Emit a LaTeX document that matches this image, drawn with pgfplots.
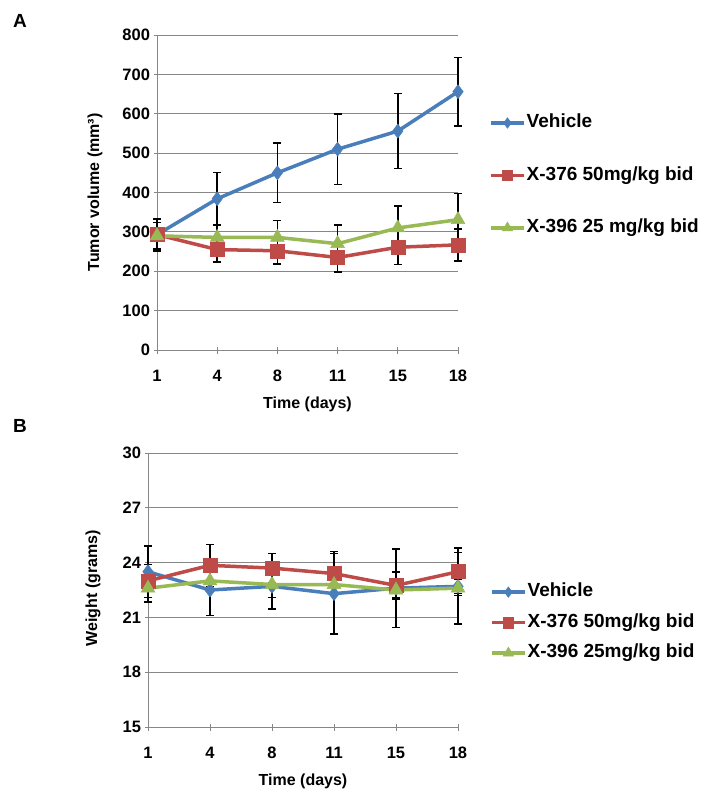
\documentclass[border=0pt]{standalone}
\usepackage{fontspec}
\setmainfont{Liberation Sans}
\usepackage{pgfplots}
\usepackage{pgfplotstable}
\pgfplotsset{compat=1.18}

\definecolor{vblue}{HTML}{4A7EBB}
\definecolor{vred}{HTML}{BE4B48}
\definecolor{vgreen}{HTML}{98B954}
\definecolor{gridgray}{HTML}{878787}

% panel A: tumor volume, x = category index (days 1,4,8,11,15,18)
\pgfplotstableread{
x y e
0 293 41
1 384 67
2 450 75
3 510 90
4 556 95
5 656 87
}\volveh
\pgfplotstableread{
x y e
0 293 38
1 255 32
2 252 34
3 235 37
4 261 44
5 267 41
}\volred
\pgfplotstableread{
x y e
0 290 34
1 286 31
2 286 43
3 270 48
4 310 55
5 331 66
}\volgreen

% panel B: body weight
\pgfplotstableread{
x y e
0 23.5 1.4
1 22.5 1.4
2 22.7 1.25
3 22.3 2.2
4 22.6 2.15
5 22.7 0.4
}\wveh
\pgfplotstableread{
x y e
0 23.0 0.9
1 23.85 1.15
2 23.7 0.8
3 23.4 1.2
4 22.75 0.75
5 23.5 1.3
}\wred
\pgfplotstableread{
x y e
0 22.6 0.75
1 23.0 0.5
2 22.8 0.7
3 22.8 0.5
4 22.5 0.4
5 22.6 1.95
}\wgreen

\pgfplotsset{
  excel/.style={
    scale only axis, clip=false,
    axis x line=bottom, axis y line=left,
    axis line style={draw=gridgray, line width=0.8pt, -},
    xmin=0, xmax=5, xtick={0,...,5}, xticklabels={1,4,8,11,15,18},
    ymajorgrids, grid style={gridgray, line width=0.8pt},
    tick style={gridgray, line width=0.8pt}, tick align=center, major tick length=7pt,
    ticklabel style={font=\fontsize{16.5}{19}\selectfont\bfseries},
    xticklabel style={yshift=-13pt},
    /pgf/number format/assume math mode=true,
    label style={font=\fontsize{16}{19}\selectfont\bfseries},
    legend cell align=left,
    legend image code/.code={
      \draw[mark repeat=2, mark phase=2, #1, every mark/.append style={scale=0.75}]
        plot coordinates {(0pt,0pt) (16.5pt,0pt) (33pt,0pt)};
    },
  },
  sblue/.style={vblue, line width=3.5pt, mark=diamond*, mark size=7pt, mark options={fill=vblue, draw=vblue, line width=0.5pt}},
  sred/.style={vred, line width=3.5pt, mark=square*, mark size=7pt, mark options={fill=vred, draw=vred, line width=0.5pt}},
  sgreen/.style={vgreen, line width=3.5pt, mark=triangle*, mark size=8pt, mark options={fill=vgreen, draw=vgreen, line width=0.5pt}},
  ebar/.style={forget plot, draw=none, mark=none,
    error bars/.cd, y dir=both, y explicit,
    error bar style={black, line width=1.6pt},
    error mark options={black, rotate=90, mark size=4pt, line width=1.6pt}},
}

\begin{document}
\begin{tikzpicture}
\path[use as bounding box] (0pt,0pt) rectangle (706pt,-798pt);

\node at (20pt,-21pt) {\fontsize{19}{22}\selectfont\bfseries A};
\node at (20pt,-426pt) {\fontsize{19}{22}\selectfont\bfseries B};

\begin{axis}[excel,
  at={(157pt,-350pt)}, anchor=south west,
  width=301pt, height=315pt,
  ymin=0, ymax=800, ytick={0,100,...,800},
  xlabel={Time (days)}, ylabel={Tumor volume (mm³)},
  xlabel style={at={(axis description cs:0.5,-0.171)}, anchor=center},
  ylabel style={at={(axis description cs:-0.206,0.5)}, anchor=center},
  legend style={at={(axis description cs:1.103,0.554)}, anchor=west,
    draw=none, fill=none, inner sep=0pt, row sep=33pt,
    nodes={inner sep=1pt, text height=13.5pt, text depth=4pt,
      font=\fontsize{19}{22}\selectfont\bfseries}},
]
\addplot[sblue] table[x=x,y=y]{\volveh};
\addlegendentry{Vehicle}
\addplot[sred] table[x=x,y=y]{\volred};
\addlegendentry{X-376 50mg/kg bid}
\addplot[sgreen] table[x=x,y=y]{\volgreen};
\addlegendentry{X-396 25 mg/kg bid}
\addplot[ebar] table[x=x,y=y,y error=e]{\volveh};
\addplot[ebar] table[x=x,y=y,y error=e]{\volred};
\addplot[ebar] table[x=x,y=y,y error=e]{\volgreen};
\end{axis}

\begin{axis}[excel,
  at={(148pt,-727pt)}, anchor=south west,
  width=310pt, height=274pt,
  ymin=15, ymax=30, ytick={15,18,...,30},
  xlabel={Time (days)}, ylabel={Weight (grams)},
  xlabel style={at={(axis description cs:0.5,-0.2)}, anchor=center},
  ylabel style={at={(axis description cs:-0.177,0.507)}, anchor=center},
  legend style={at={(axis description cs:1.103,0.381)}, anchor=west,
    draw=none, fill=none, inner sep=0pt, row sep=11pt,
    nodes={inner sep=1pt, text height=13.5pt, text depth=4pt,
      font=\fontsize{19}{22}\selectfont\bfseries}},
]
\addplot[sblue] table[x=x,y=y]{\wveh};
\addlegendentry{Vehicle}
\addplot[sred] table[x=x,y=y]{\wred};
\addlegendentry{X-376 50mg/kg bid}
\addplot[sgreen] table[x=x,y=y]{\wgreen};
\addlegendentry{X-396 25mg/kg bid}
\addplot[ebar] table[x=x,y=y,y error=e]{\wveh};
\addplot[ebar] table[x=x,y=y,y error=e]{\wred};
\addplot[ebar] table[x=x,y=y,y error=e]{\wgreen};
\end{axis}
\end{tikzpicture}
\end{document}
